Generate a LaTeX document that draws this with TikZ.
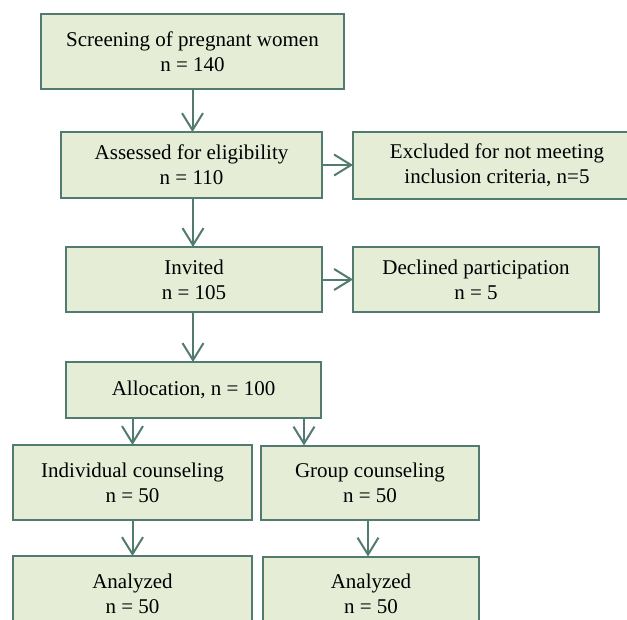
\documentclass[tikz,border=0pt]{standalone}
\usepackage{fontspec}
\setmainfont{Liberation Serif}
\usepackage{tikz}
\usetikzlibrary{arrows.meta,positioning}
\definecolor{cfill}{RGB}{229,237,215}
\definecolor{cline}{RGB}{80,123,110}
\tikzstyle{stage} = [rectangle, draw=cline, fill=cfill, line width=2pt, inner sep=0pt, outer sep=0pt, align=center, font=\fontsize{21}{25}\selectfont]
\tikzstyle{flowarrow} = [line width=2pt, color=cline, -{Straight Barb[length=17pt,width=21pt,line width=2pt]}]

\begin{document}
\begin{tikzpicture}[x=1pt, y=1pt]
\clip (0,0) rectangle (627,-619);
\node (screen) [stage, minimum width=303pt, minimum height=75pt] at (192.5,-51.5) {Screening of pregnant women\\n = 140};
\node (assess) [stage, below=43pt of screen, xshift=-1pt, minimum width=261pt, minimum height=66pt] {Assessed for eligibility\\n = 110};
\node (excl) [stage, right=31pt of assess, minimum width=288pt, minimum height=67pt] {Excluded for not meeting\\inclusion criteria, n=5};
\node (invite) [stage, below=49pt of assess, xshift=2.5pt, minimum width=256pt, minimum height=65pt] {Invited\\n = 105};
\node (decl) [stage, right=31pt of invite, minimum width=246pt, minimum height=65pt] {Declined participation\\n = 5};
\node (alloc) [stage, below=50pt of invite, xshift=-0.5pt, minimum width=255pt, minimum height=56pt] {Allocation, n = 100};
\node (indiv) [stage, below=27pt of alloc, xshift=-61pt, minimum width=239pt, minimum height=75pt] {Individual counseling\\n = 50};
\node (group) [stage, right=9pt of indiv, minimum width=218pt, minimum height=74pt] {Group counseling\\n = 50};
\node (anind) [stage, below=36pt of indiv, minimum width=239pt, minimum height=75pt] {Analyzed\\n = 50};
\node (angrp) [stage, below=37pt of group, xshift=1pt, minimum width=216pt, minimum height=75pt] {Analyzed\\n = 50};
\draw[flowarrow] (screen.south) -- (screen.south |- assess.north);
\draw[flowarrow] (assess.east) -- (excl.west);
\draw[flowarrow] ([xshift=1.5pt]assess.south) -- ([xshift=1.5pt]assess.south |- invite.north);
\draw[flowarrow] (invite.east) -- (invite.east -| decl.west);
\draw[flowarrow] ([xshift=-1pt]invite.south) -- ([xshift=-1pt]invite.south |- alloc.north);
\draw[flowarrow] (indiv.north |- alloc.south) -- (indiv.north);
\draw[flowarrow] ([xshift=-17pt]alloc.south east) -- ([xshift=-17pt]alloc.south east |- group.north);
\draw[flowarrow] (indiv.south) -- (indiv.south |- anind.north);
\draw[flowarrow] ([xshift=-2pt]group.south) -- ([xshift=-2pt]group.south |- angrp.north);
\end{tikzpicture}
\end{document}
